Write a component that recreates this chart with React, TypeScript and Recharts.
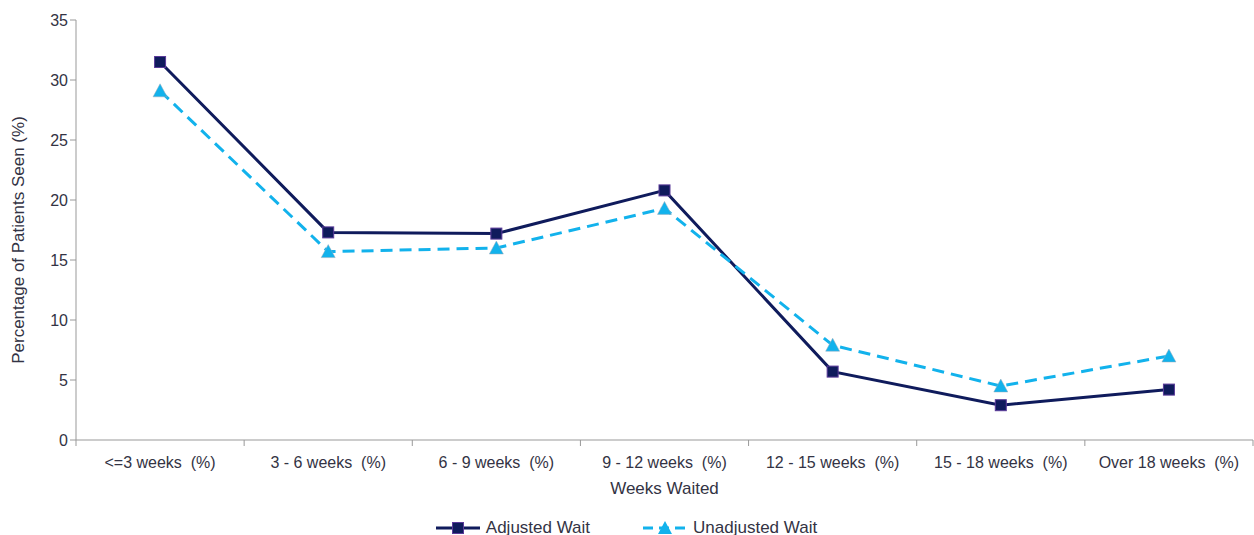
import React from 'react';
import { LineChart, Line, XAxis, YAxis, Legend } from 'recharts';

const categories = [
  '<=3 weeks\u00a0 (%)',
  '3 - 6 weeks\u00a0 (%)',
  '6 - 9 weeks\u00a0 (%)',
  '9 - 12 weeks\u00a0 (%)',
  '12 - 15 weeks\u00a0 (%)',
  '15 - 18 weeks\u00a0 (%)',
  'Over 18 weeks\u00a0 (%)',
];
const adjustedWait = [31.5, 17.3, 17.2, 20.8, 5.7, 2.9, 4.2];
const unadjustedWait = [29.1, 15.7, 16.0, 19.3, 7.9, 4.5, 7.0];
const yTicks = [0, 5, 10, 15, 20, 25, 30, 35];

const data = categories.map((c, i) => ({
  category: c,
  adjusted: adjustedWait[i],
  unadjusted: unadjustedWait[i],
}));

const NAVY = '#0f1b5c';
const BLUE = '#12b2ec';
const TEXT = '#333344';
const AXIS = '#999999';
const FONT = '"Liberation Sans", Arial, sans-serif';

const Square = (props: any) => {
  const { cx, cy } = props;
  if (cx == null || cy == null) return null;
  return <rect x={cx - 5.5} y={cy - 5.5} width={11} height={11} fill={NAVY} stroke="#5a3a9a" strokeWidth={1} />;
};

const Triangle = (props: any) => {
  const { cx, cy } = props;
  if (cx == null || cy == null) return null;
  return <polygon points={`${cx},${cy - 7} ${cx - 7},${cy + 6} ${cx + 7},${cy + 6}`} fill={BLUE} stroke="#9ab" strokeWidth={0.5} />;
};

const CategoryTick = (props: any) => {
  const { x, y, payload, index, visibleTicksCount, width } = props;
  const half = width / visibleTicksCount / 2;
  return (
    <g>
      <line x1={x - half} y1={y - 8} x2={x - half} y2={y - 2} stroke={AXIS} strokeWidth={1} />
      {index === visibleTicksCount - 1 && (
        <line x1={x + half} y1={y - 8} x2={x + half} y2={y - 2} stroke={AXIS} strokeWidth={1} />
      )}
      <text x={x} y={y + 20} textAnchor="middle" fill={TEXT} fontSize={16} fontFamily={FONT}>
        {payload.value}
      </text>
    </g>
  );
};

const LegendContent = () => (
  <div style={{ display: 'flex', justifyContent: 'center', alignItems: 'center', fontFamily: FONT, fontSize: 17, color: TEXT, paddingTop: 18 }}>
    <div style={{ display: 'flex', alignItems: 'center', marginRight: 53 }}>
      <svg width={44} height={14}>
        <line x1={0} y1={7} x2={44} y2={7} stroke={NAVY} strokeWidth={3} />
        <rect x={16.5} y={1.5} width={11} height={11} fill={NAVY} stroke="#5a3a9a" strokeWidth={1} />
      </svg>
      <span style={{ marginLeft: 6 }}>Adjusted Wait</span>
    </div>
    <div style={{ display: 'flex', alignItems: 'center' }}>
      <svg width={44} height={14}>
        <line x1={0} y1={7} x2={44} y2={7} stroke={BLUE} strokeWidth={3} strokeDasharray="10 6" />
        <polygon points="22,0 15,13 29,13" fill={BLUE} />
      </svg>
      <span style={{ marginLeft: 6 }}>Unadjusted Wait</span>
    </div>
  </div>
);

export default function App() {
  return (
    <div style={{ position: 'absolute', left: 0, top: 0, width: 1254, height: 535, background: '#fff' }}>
      <LineChart width={1254} height={535} data={data} margin={{ top: 20, right: 1, bottom: 0, left: 0 }}>
        <XAxis
          dataKey="category"
          scale="band"
          stroke={AXIS}
          tickLine={false}
          tickSize={6}
          interval={0}
          height={60}
          tick={<CategoryTick />}
          label={{ value: 'Weeks Waited', position: 'insideBottom', offset: 6, fill: TEXT, fontSize: 17, fontFamily: FONT }}
        />
        <YAxis
          domain={[0, 35]}
          ticks={yTicks}
          interval={0}
          width={76}
          stroke={AXIS}
          tickSize={6}
          tick={{ fill: TEXT, fontSize: 16, fontFamily: FONT }}
          label={{
            value: 'Percentage of Patients Seen (%)',
            angle: -90,
            position: 'insideLeft',
            offset: 18,
            dy: 10,
            style: { textAnchor: 'middle', fill: TEXT, fontSize: 17, fontFamily: FONT },
          }}
        />
        <Legend verticalAlign="bottom" height={35} content={<LegendContent />} />
        <Line
          type="linear"
          dataKey="adjusted"
          name="Adjusted Wait"
          stroke={NAVY}
          strokeWidth={3}
          dot={<Square />}
          activeDot={false}
          isAnimationActive={false}
        />
        <Line
          type="linear"
          dataKey="unadjusted"
          name="Unadjusted Wait"
          stroke={BLUE}
          strokeWidth={3}
          strokeDasharray="12 7"
          dot={<Triangle />}
          activeDot={false}
          isAnimationActive={false}
        />
      </LineChart>
    </div>
  );
}
